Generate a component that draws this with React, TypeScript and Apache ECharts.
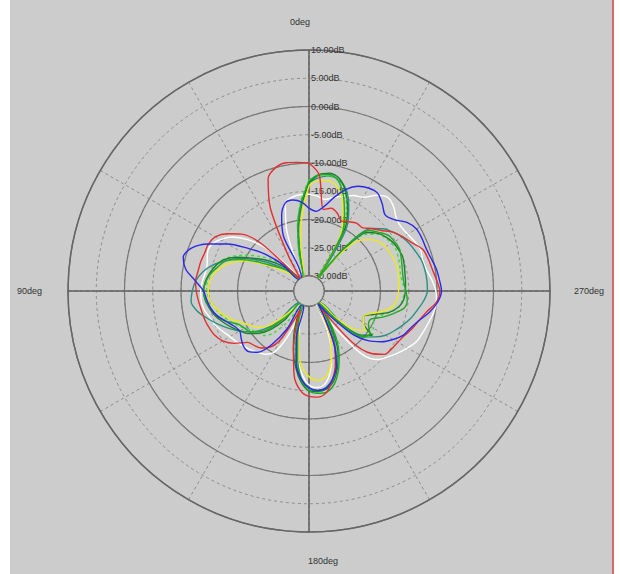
import React, { useEffect, useRef } from 'react';
import * as echarts from 'echarts';

// Angle (degrees, counter-clockwise from 0deg at top) for every sample
const ANGLES = [
  0, 5, 10, 15, 20, 25, 30, 35, 40, 45, 50, 55,
  60, 65, 70, 75, 80, 85, 90, 95, 100, 105, 110, 115,
  120, 125, 130, 135, 140, 145, 150, 155, 160, 165, 170, 175,
  180, 185, 190, 195, 200, 205, 210, 215, 220, 225, 230, 235,
  240, 245, 250, 255, 260, 265, 270, 275, 280, 285, 290, 295,
  300, 305, 310, 315, 320, 325, 330, 335, 340, 345, 350, 355,
];

const ANGLE_LABELS = ['0deg', '90deg', '180deg', '270deg'];

// Gain in dB per angle for each trace
const white = [
  -15.5, -15.5, -15.8, -16.5, -21, -28, -30, -30, -27, -22, -18.5, -16,
  -14.5, -13.5, -13.5, -14, -14, -13.7, -13.5, -13.5, -13.8, -14.5, -15, -15.8,
  -16.5, -17, -17.5, -18, -18.5, -19, -20, -24, -30, -26, -21, -18,
  -16, -15.5, -16, -18, -21, -25, -30, -25, -18, -15.5, -14.5, -13.5,
  -12.5, -11.6, -11.2, -10.8, -10.3, -10, -10.2, -10.8, -11.5, -11.8, -11.6, -12,
  -12.5, -12.8, -12.5, -11.5, -11, -12, -13.5, -14, -14.8, -15.5, -16.2, -15.8,
];
const teal = [
  -13.5, -17, -21, -26, -30, -30, -30, -30, -30, -28, -26, -24,
  -21.5, -19, -17, -15, -13.5, -12.5, -12, -11.7, -12.5, -14, -15.5, -17,
  -18.5, -20, -22, -25, -30, -30, -30, -30, -27, -24, -20, -17,
  -15.5, -15, -15.3, -16.5, -18.5, -21.5, -25, -30, -30, -24, -20, -18.5,
  -17, -16, -15, -14, -13.2, -12.3, -11.7, -11.7, -11.8, -12, -12.5, -13,
  -13.6, -14.5, -15.5, -17, -22, -30, -19, -16, -13.5, -12.3, -12, -12.5,
];
const lime = [
  -13, -16.5, -21, -26, -30, -30, -30, -30, -29, -26.5, -24, -22,
  -20, -18, -16.5, -15.5, -14.8, -14.5, -14.6, -15, -15.8, -16.5, -17.5, -18.5,
  -19.5, -20.5, -21, -21.5, -23, -26, -30, -29, -26, -23, -19.5, -16.5,
  -15, -14.8, -15.2, -16.5, -19, -22, -26, -30, -28, -23, -20, -19,
  -19.5, -20, -19.5, -18, -16.5, -16, -15.8, -16, -16.2, -16, -15.8, -15.6,
  -15.8, -16.2, -17, -18.5, -23, -30, -21, -17, -14, -12.3, -12, -12.2,
];
const darkGreen = [
  -13.5, -17.5, -22, -27.5, -30, -30, -30, -30, -29, -27, -25, -23,
  -21, -18.5, -16.5, -15.5, -14.8, -14.2, -14, -14.2, -14.8, -15.5, -16.5, -17.5,
  -18.5, -19.5, -21, -23, -26, -30, -30, -28, -25, -22, -19, -16.5,
  -15, -14.8, -15, -16, -18, -20.5, -24, -28, -30, -24, -20.5, -19,
  -21.5, -22, -20.5, -18, -16.5, -15.8, -15.6, -15.5, -15.4, -15.2, -15, -15.2,
  -15.5, -16, -16.8, -18, -23, -30, -20, -16.5, -13.8, -12, -11.5, -12,
];
const yellow = [
  -14, -19, -24, -29, -30, -30, -30, -30, -30, -29, -27.5, -25.5,
  -23, -20, -18, -16.5, -15.5, -15, -14.8, -15, -15.8, -16.8, -18, -19.5,
  -20.5, -21.5, -23, -26, -29, -30, -30, -30, -28, -25.5, -22, -19,
  -17.5, -16.8, -17, -18.5, -21, -24, -28, -30, -30, -26, -22, -20.5,
  -21.5, -22, -21, -19, -17.5, -17, -16.8, -16.7, -16.6, -16.5, -16.6, -16.8,
  -17, -17.5, -18.5, -20, -24, -30, -22, -18.5, -15.5, -13.5, -12.8, -13,
];
const green = [
  -13.2, -17, -21.5, -27, -29.5, -30, -30, -30, -30, -28, -26.5, -25,
  -22.5, -19.5, -17, -16, -15, -14.3, -14, -14.3, -15, -15.8, -17, -18.8,
  -19.5, -20, -21.5, -24, -27.5, -30, -30, -30, -27.5, -25, -21, -17,
  -15, -14.5, -14.5, -15.5, -17.5, -20, -23, -27, -30, -23.5, -20, -19.5,
  -20.5, -20.7, -19, -17.2, -15.5, -15.2, -15.5, -15.8, -15.8, -15.6, -15.3, -15,
  -15.2, -15.5, -16.5, -17.5, -22, -30, -21, -17.8, -14.8, -12.5, -11.7, -12,
];
const red = [
  -10, -9.8, -9.6, -10, -11.5, -16.5, -25, -30, -29, -21, -17, -15,
  -13.5, -13, -13, -12.8, -12.7, -12.5, -12.7, -13, -13.3, -13.5, -13.8, -14.2,
  -15, -16.5, -18.5, -19, -19.5, -20.5, -23, -29, -26, -22, -17.5, -15,
  -14, -13.8, -14.5, -16.5, -19, -22, -27, -29, -21, -17, -15.2, -14.8,
  -14.5, -14, -13.2, -12.5, -11.5, -10, -9.5, -10, -10.5, -10.8, -11.2, -12.5,
  -13.5, -14.5, -16, -17, -18, -18, -18.5, -19, -18, -17.5, -18, -12,
];
const blue = [
  -18, -16.8, -16.3, -16.5, -18.5, -22, -30, -30, -30, -26, -22.5, -19.5,
  -16, -13, -10.5, -9.6, -10.5, -12.5, -14, -14.5, -15, -15.8, -17, -18,
  -18.5, -18, -17.5, -17.5, -18.5, -21, -25, -30, -30, -24, -19.5, -17,
  -15.5, -15, -15.2, -16.5, -18.5, -22, -27, -30, -27, -22, -19, -17,
  -15.5, -14.2, -13.5, -12.5, -11, -9.8, -9.2, -9.5, -9.8, -10.3, -10.6, -10.6,
  -10.7, -11.5, -13, -13.6, -12.5, -11.5, -11.6, -12.2, -13.5, -15.5, -17.5, -18.5,
];

const TRACES: { name: string; values: number[]; color: string; dashed?: boolean }[] = [
  { name: 'white', values: white, color: '#ffffff' },
  { name: 'teal', values: teal, color: '#2b8f85' },
  { name: 'lime', values: lime, color: '#3ddc3d', dashed: true },
  { name: 'darkGreen', values: darkGreen, color: '#1e7d2c' },
  { name: 'yellow', values: yellow, color: '#eeea1a' },
  { name: 'green', values: green, color: '#22a822' },
  { name: 'red', values: red, color: '#e52f2f' },
  { name: 'blue', values: blue, color: '#2a2ae6' },
];

const CX = 309;
const CY = 291;
const R_IN = 15;
const R_OUT = 241;
const FONT = 'Liberation Sans, Arial, sans-serif';

export default function App() {
  const ref = useRef<HTMLDivElement>(null);

  useEffect(() => {
    if (!ref.current) return;
    const chart = echarts.init(ref.current, undefined, { renderer: 'svg' });
    const toData = (vals: number[]) => {
      const d = vals.map((v, i) => [v, ANGLES[i]]);
      d.push([vals[0], 360]);
      return d;
    };
    const labelStyle = ['{t|', '{l|', '{b|', '{r|'];
    const option: any = {
      animation: false,
      backgroundColor: 'transparent',
      polar: [
        { center: [CX, CY], radius: [R_IN, R_OUT] },
        { center: [CX, CY], radius: [R_IN, R_OUT] },
      ],
      angleAxis: [
        {
          polarIndex: 0,
          type: 'value',
          min: 0,
          max: 360,
          interval: 30,
          startAngle: 90,
          clockwise: false,
          axisLine: { show: false },
          axisTick: { show: false },
          axisLabel: { show: false },
          splitLine: { show: true, lineStyle: { color: '#8c8c8c', width: 1, type: [3, 3] } },
        },
        {
          polarIndex: 1,
          type: 'value',
          min: 0,
          max: 360,
          interval: 90,
          startAngle: 90,
          clockwise: false,
          axisLine: { show: true, lineStyle: { color: '#666666', width: 1.5 } },
          axisTick: { show: false },
          axisLabel: {
            show: true,
            margin: 24,
            fontSize: 9,
            fontFamily: FONT,
            color: '#333333',
            formatter: (v: number) => {
              if (v >= 360) return '';
              const k = Math.round(v / 90);
              return labelStyle[k] + ANGLE_LABELS[k] + '}';
            },
            rich: {
              t: { fontSize: 9, fontFamily: FONT, color: '#333333', padding: [0, 18, 0, 0] },
              l: { fontSize: 9, fontFamily: FONT, color: '#333333', padding: [0, 2, 0, 0] },
              b: { fontSize: 9, fontFamily: FONT, color: '#333333', padding: [0, 0, 0, 28] },
              r: { fontSize: 9, fontFamily: FONT, color: '#333333' },
            },
          },
          splitLine: { show: true, lineStyle: { color: '#5e5e5e', width: 1.5 } },
        },
      ],
      radiusAxis: [
        {
          polarIndex: 0,
          type: 'value',
          min: -30,
          max: 10,
          interval: 5,
          axisLine: { show: false },
          axisTick: { show: false },
          axisLabel: {
            show: true,
            margin: -2,
            align: 'left',
            verticalAlign: 'middle',
            fontSize: 9,
            fontFamily: FONT,
            color: '#333333',
            formatter: (v: number) => v.toFixed(2) + 'dB',
          },
          splitLine: { show: true, lineStyle: { color: '#8c8c8c', width: 1, type: [3, 3] } },
        },
        {
          polarIndex: 1,
          type: 'value',
          min: -30,
          max: 10,
          interval: 10,
          axisLine: { show: false },
          axisTick: { show: false },
          axisLabel: { show: false },
          splitLine: { show: true, lineStyle: { color: '#777777', width: 1.2 } },
        },
      ],
      series: TRACES.map((t) => ({
        name: t.name,
        type: 'line',
        coordinateSystem: 'polar',
        polarIndex: 0,
        data: toData(t.values),
        symbol: 'none',
        smooth: 0.3,
        silent: true,
        z: 3,
        lineStyle: { color: t.color, width: 1.4, type: t.dashed ? [3, 3] : 'solid' },
      })),
      graphic: [
        {
          type: 'circle',
          z: 100,
          shape: { cx: CX, cy: CY, r: R_IN },
          style: { fill: '#cccccc', stroke: '#7a7a7a', lineWidth: 1 },
        },
      ],
    };
    chart.setOption(option);
    return () => chart.dispose();
  }, []);

  return (
    <div style={{ position: 'fixed', left: 0, top: 0, width: 620, height: 574, background: '#ffffff', overflow: 'hidden' }}>
      <div style={{ position: 'absolute', left: 10, top: 0, width: 602, height: 574, background: '#cccccc' }} />
      <div style={{ position: 'absolute', left: 612, top: 0, width: 2, height: 574, background: '#d46a6a' }} />
      <div ref={ref} style={{ position: 'absolute', left: 0, top: 0, width: 620, height: 574 }} />
    </div>
  );
}
